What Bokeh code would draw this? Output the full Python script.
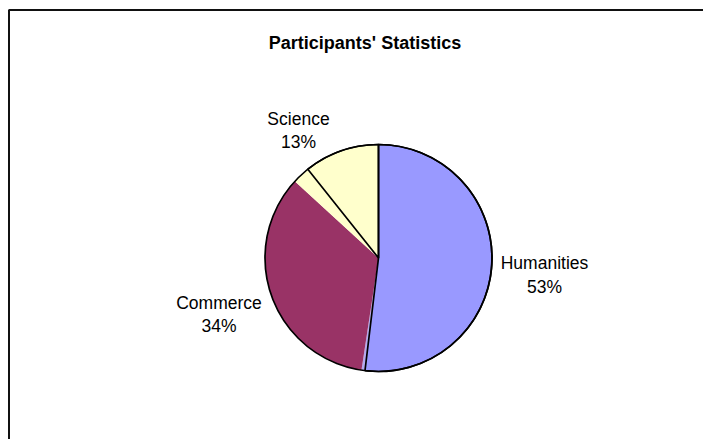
import math
from bokeh.plotting import figure
from bokeh.models import ColumnDataSource, Range1d
from bokeh.core.properties import value
from bokeh.embed import file_html
from bokeh.resources import INLINE

# ---- data ----
slices = ["Humanities", "Other A", "Commerce", "Other B", "Science"]
shares = [51.9, 0.5, 34.4, 2.5, 10.7]          # angular share of the pie (%)
label_names = ["Science", "Humanities", "Commerce"]
label_pcts = ["13%", "53%", "34%"]
title_text = "Participants' Statistics"

# ---- styles / layout ----
colors = ["#9999FF", "#B4AAF0", "#993366", "#FFFFCC", "#FFFFCC"]
outlined = [True, False, False, False, True]
W, H = 703, 439
def dx(sx): return sx
def dy(sy): return H - sy
CX, CY, R = dx(378), dy(257.5), 113.5
label_xy = {"Science": (298, 118.3), "Humanities": (544, 262.7), "Commerce": (218.5, 302)}
LINE_GAP = 23.4
FONT = "Liberation Sans"

total = sum(shares)
starts, ends = [], []
c = 0.0
for s in shares:
    c0, c1 = c / total, (c + s) / total
    starts.append(math.pi / 2 - 2 * math.pi * c1)
    ends.append(math.pi / 2 - 2 * math.pi * c0)
    c += s

src = ColumnDataSource(dict(name=slices, start=starts, end=ends, color=colors,
                            line=["black" if o else None for o in outlined]))

p = figure(width=W, height=H, output_backend="svg", toolbar_location=None,
           x_range=Range1d(0, W), y_range=Range1d(0, H),
           x_axis_location=None, y_axis_location=None, min_border=0)
p.grid.visible = False
p.outline_line_color = None
p.background_fill_color = "white"
p.border_fill_color = "white"

# frame (left and top edges visible; right/bottom run past the window)
p.quad(left=[dx(8.5)], right=[W + 50], top=[dy(9.5)], bottom=[-50],
       fill_color=None, line_color="#111111", line_width=2)

p.wedge(x=CX, y=CY, radius=R, start_angle="start", end_angle="end",
        fill_color="color", line_color=None, source=src)
p.wedge(x=CX, y=CY, radius=R, start_angle="start", end_angle="end",
        fill_color=None, line_color="line", line_width=1.7, source=src)
p.arc(x=CX, y=CY, radius=R, start_angle=0, end_angle=2 * math.pi,
      line_color="black", line_width=1.7)

lx = [dx(label_xy[n][0]) for n in label_names]
ly1 = [dy(label_xy[n][1]) for n in label_names]
ly2 = [dy(label_xy[n][1] + LINE_GAP) for n in label_names]
p.text(x=lx, y=ly1, text=label_names, text_align="center", text_baseline="alphabetic",
       text_font=value(FONT), text_font_size="17.5px", text_color="black")
p.text(x=lx, y=ly2, text=label_pcts, text_align="center", text_baseline="alphabetic",
       text_font=value(FONT), text_font_size="17.5px", text_color="black")

p.text(x=[dx(364.5)], y=[dy(42.5)], text=[title_text], text_align="center",
       text_baseline="alphabetic", text_font=value(FONT), text_font_size="18px",
       text_font_style="bold", text_color="black")

open("out.html", "w").write(file_html(p, INLINE))
